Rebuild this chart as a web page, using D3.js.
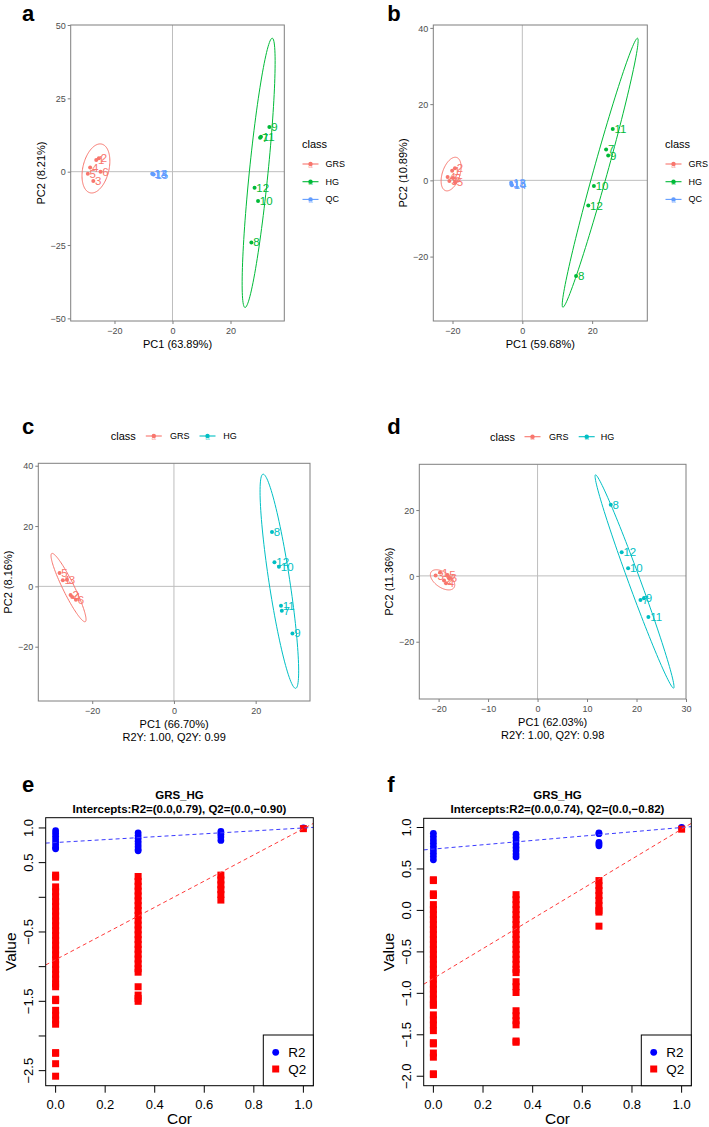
<!DOCTYPE html>
<html><head><meta charset="utf-8">
<script src="https://cdn.jsdelivr.net/npm/d3@7"></script>
<style>body{margin:0;background:#fff}svg{display:block}</style>
</head><body>
<svg id="fig" width="709" height="1127"></svg>
<script>
// ---------------- DATA ----------------
const sampleIds = ["1","2","3","4","5","6","7","8","9","10","11","12","13","14","15"];
const classes3 = ["GRS","GRS","GRS","GRS","GRS","GRS","HG","HG","HG","HG","HG","HG","QC","QC","QC"];
const classes2 = classes3.slice(0, 12);

// panel a (PCA, with QC)
const aPC1 = [-26.3, -25.4, -27.3, -28.4, -29.2, -24.8, 30.2, 27.2, 33.4, 29.5, 30.5, 28.3, -7.0, -6.7, -6.5];
const aPC2 = [4.0, 4.6, -3.2, 1.4, -0.7, 0.0, 11.6, -24.1, 15.2, -10.0, 11.9, -5.5, -0.7, -0.9, -1.0];
// ellipses: class, centre x, centre y, tip x, tip y, minor/major ratio
const aEllipses = [["GRS", -26.4, 1.1, -24.4, 9.4, 0.52], ["HG", 29.7, -0.4, 34.4, 45.5, 0.069]];
const aXTicks = [-20, 0, 20], aYTicks = [-50, -25, 0, 25, 50];

// panel b
const bPC1 = [-20.1, -19.3, -20.9, -21.4, -19.3, -19.9, 24.0, 15.4, 24.6, 20.5, 25.9, 18.9, -3.2, -3.0, -3.1];
const bPC2 = [2.5, 3.2, -0.2, 0.9, -0.5, 0.6, 8.1, -25.1, 6.5, -1.5, 13.5, -6.6, -0.6, -1.3, -1.0];
const bEllipses = [["GRS", -20.4, 1.65, -18.8, 6.0, 0.5], ["HG", 22.3, 2.0, 33.0, 37.3, 0.05]];
const bXTicks = [-20, 0, 20], bYTicks = [-20, 0, 20, 40];

// panel c (OPLS-DA GRS vs HG)
const cPC1 = [-27.2, -25.3, -26.2, -24.9, -28.0, -24.0, 26.4, 24.0, 29.0, 25.7, 26.2, 24.6];
const cPC2 = [2.0, -2.9, 2.2, -3.5, 4.4, -4.4, -8.1, 18.0, -15.6, 6.5, -6.4, 8.0];
const cEllipses = [["GRS", -25.8, -0.4, -29.9, 10.9, 0.15], ["HG", 25.8, 1.7, 21.8, 37.2, 0.096]];
const cXTicks = [-20, 0, 20], cYTicks = [-20, 0, 20, 40];

// panel d
const dPC1 = [-19.7, -18.9, -20.6, -18.5, -18.2, -17.9, 20.8, 14.8, 21.5, 18.3, 22.4, 17.0];
const dPC2 = [1.0, -1.4, 0.1, -2.2, 0.3, -0.7, -7.3, 21.6, -6.8, 2.3, -12.5, 7.2];
const dEllipses = [["GRS", -19.2, -1.2, -21.5, 1.2, 0.55], ["HG", 19.6, -1.7, 11.7, 30.7, 0.052]];
const dXTicks = [-20, -10, 0, 10, 20, 30], dYTicks = [-20, 0, 20];

// panels e, f (permutation tests)
const permCor = [0, 0.333, 0.667, 1];
const eR2 = [[0.96,0.92,0.88,0.84,0.80,0.76,0.72,0.70],[0.93,0.89,0.85,0.81,0.77,0.73,0.69,0.67],[0.95,0.91,0.87,0.82],[1.0]];
const eQ2 = [[0.32,0.29,0.15,0.08,0.01,-0.06,-0.13,-0.20,-0.27,-0.34,-0.41,-0.48,-0.55,-0.62,-0.69,-0.76,-0.83,-0.90,-0.97,-1.04,-1.11,-1.18,-1.25,-1.29,-1.47,-1.49,-1.63,-1.70,-1.77,-1.83,-2.24,-2.25,-2.40,-2.58],
             [0.30,0.23,0.16,0.09,0.02,-0.05,-0.12,-0.19,-0.26,-0.33,-0.40,-0.47,-0.54,-0.61,-0.68,-0.75,-0.82,-0.89,-0.96,-1.03,-1.08,-1.29,-1.41,-1.46,-1.50],
             [0.32,0.25,0.18,0.11,0.04,-0.04],
             [0.99]];
const eIntercepts = [0.79, -0.90];
const eYTicks = [1.0, 0.5, 0, -0.5, -1.0, -1.5, -2.0, -2.5];
const eYTickLabels = ["1.0", "0.5", "", "\u22120.5", "", "\u22121.5", "", "\u22122.5"];

const fR2 = [[0.93,0.89,0.85,0.81,0.77,0.73,0.69,0.65,0.61],[0.92,0.88,0.84,0.80,0.76,0.72,0.68,0.645],[0.935,0.925,0.82,0.80,0.78],[1.0]];
const fQ2 = [[0.37,0.36,0.20,0.18,0.07,0.01,-0.05,-0.11,-0.17,-0.23,-0.29,-0.35,-0.41,-0.47,-0.53,-0.59,-0.65,-0.71,-0.77,-0.83,-0.89,-0.95,-1.01,-1.07,-1.13,-1.145,-1.26,-1.32,-1.38,-1.45,-1.595,-1.61,-1.72,-1.77,-1.97,-1.98],
             [0.19,0.13,0.07,0.01,-0.05,-0.11,-0.17,-0.23,-0.29,-0.35,-0.41,-0.47,-0.53,-0.59,-0.65,-0.71,-0.75,-0.86,-0.92,-0.99,-1.21,-1.27,-1.33,-1.38,-1.575,-1.59],
             [0.36,0.30,0.24,0.18,0.12,0.06,0.0,-0.02,-0.19],
             [0.98]];
const fIntercepts = [0.74, -0.82];
const fYTicks = [1.0, 0.5, 0, -0.5, -1.0, -1.5, -2.0];
const fYTickLabels = ["1.0", "0.5", "0.0", "\u22120.5", "\u22121.0", "\u22121.5", "\u22122.0"];
const corTicks = [0, 0.2, 0.4, 0.6, 0.8, 1.0];

// ---------------- DRAWING ----------------
const FONT = "'Liberation Sans', Arial, Helvetica, sans-serif";
const svg = d3.select("#fig").style("font-family", FONT);
const col3 = d3.scaleOrdinal().domain(["GRS","HG","QC"]).range(["#F8766D","#00BA38","#619CFF"]);
const col2 = d3.scaleOrdinal().domain(["GRS","HG"]).range(["#F8766D","#00BFC4"]);
const fmtMinus = d => (d < 0 ? "\u2212" + Math.abs(d) : String(d));
const fmt2 = v => (v < 0 ? "\u2212" : "") + Math.abs(v).toFixed(2);

function panelLetter(t, x, y) {
  svg.append("text").attr("x", x).attr("y", y).attr("text-anchor", "middle")
    .attr("font-size", 22).attr("font-weight", "bold").text(t);
}

function ellipsePath(x, y, e) {
  const [, cx, cy, tx, ty, ratio] = e;
  const C = [x(cx), y(cy)], T = [x(tx), y(ty)];
  const dx = T[0] - C[0], dy = T[1] - C[1];
  const a = Math.hypot(dx, dy), ux = dx / a, uy = dy / a, b = a * ratio;
  const pts = d3.range(0, 360, 3).map(deg => {
    const t = deg * Math.PI / 180;
    return [C[0] + a * Math.cos(t) * ux - b * Math.sin(t) * uy,
            C[1] + a * Math.cos(t) * uy + b * Math.sin(t) * ux];
  });
  return d3.line().curve(d3.curveLinearClosed)(pts);
}

function legendKey(g, cx, cy, color) {
  g.append("line").attr("x1", cx - 8).attr("x2", cx + 8).attr("y1", cy).attr("y2", cy)
    .attr("stroke", color).attr("stroke-width", 1.1);
  g.append("text").attr("x", cx).attr("y", cy + 3.5).attr("text-anchor", "middle")
    .attr("font-size", 8).attr("fill", color).attr("opacity", 0.6).text("a");
  g.append("circle").attr("cx", cx).attr("cy", cy).attr("r", 2.2).attr("fill", color);
}

function ggPanel(o) {
  const g = svg.append("g");
  const x = d3.scaleLinear().domain(o.xDomain).range([o.left, o.right]);
  const y = d3.scaleLinear().domain(o.yDomain).range([o.bottom, o.top]);
  const clipId = "clip" + o.id;
  g.append("clipPath").attr("id", clipId).append("rect")
    .attr("x", o.left).attr("y", o.top).attr("width", o.right - o.left).attr("height", o.bottom - o.top);
  const inner = g.append("g").attr("clip-path", `url(#${clipId})`);
  inner.append("line").attr("x1", x(0)).attr("x2", x(0)).attr("y1", o.top).attr("y2", o.bottom)
    .attr("stroke", "#BEBEBE").attr("stroke-width", 1);
  inner.append("line").attr("x1", o.left).attr("x2", o.right).attr("y1", y(0)).attr("y2", y(0))
    .attr("stroke", "#BEBEBE").attr("stroke-width", 1);
  o.ellipses.forEach(e => {
    inner.append("path").attr("d", ellipsePath(x, y, e)).attr("fill", "none")
      .attr("stroke", o.color(e[0])).attr("stroke-width", 1);
  });
  const n = o.px.length;
  const pts = d3.range(n).map(i => ({x: o.px[i], y: o.py[i], c: o.cls[i], id: sampleIds[i]}));
  inner.selectAll("circle.pt").data(pts).join("circle").attr("class", "pt")
    .attr("cx", d => x(d.x)).attr("cy", d => y(d.y)).attr("r", 2).attr("fill", d => o.color(d.c));
  inner.selectAll("text.lb").data(pts).join("text").attr("class", "lb")
    .attr("x", d => x(d.x) + 1.8).attr("y", d => y(d.y)).attr("dominant-baseline", "central")
    .attr("font-size", 11.5).attr("fill", d => o.color(d.c)).text(d => d.id);
  g.append("rect").attr("x", o.left).attr("y", o.top).attr("width", o.right - o.left)
    .attr("height", o.bottom - o.top).attr("fill", "none").attr("stroke", "#7F7F7F").attr("stroke-width", 1);
  // axes
  const ax = g.append("g").attr("transform", `translate(0,${o.bottom})`)
    .call(d3.axisBottom(x).tickValues(o.xTicks).tickSize(3).tickSizeOuter(0).tickFormat(fmtMinus));
  const ay = g.append("g").attr("transform", `translate(${o.left},0)`)
    .call(d3.axisLeft(y).tickValues(o.yTicks).tickSize(3).tickSizeOuter(0).tickFormat(fmtMinus));
  [ax, ay].forEach(a => {
    a.select(".domain").remove();
    a.selectAll("line").attr("stroke", "#7F7F7F");
    a.selectAll("text").attr("fill", "#4D4D4D").attr("font-size", 9).attr("font-family", FONT);
  });
  ax.selectAll("text").attr("dy", null).attr("y", 12.5);
  ay.selectAll("text").attr("x", -5).attr("dy", "0.35em");
  // titles
  g.append("text").attr("x", (o.left + o.right) / 2).attr("y", o.bottom + 27)
    .attr("text-anchor", "middle").attr("font-size", 11).text(o.xTitle);
  if (o.subTitle) g.append("text").attr("x", (o.left + o.right) / 2).attr("y", o.bottom + 40)
    .attr("text-anchor", "middle").attr("font-size", 11).text(o.subTitle);
  g.append("text").attr("transform", `translate(${o.left - 30},${(o.top + o.bottom) / 2}) rotate(-90)`)
    .attr("text-anchor", "middle").attr("dominant-baseline", "central").attr("font-size", 11).text(o.yTitle);
  // legend
  const lg = g.append("g");
  const L = o.legend;
  lg.append("text").attr("x", L.x).attr("y", L.y).attr("dominant-baseline", "central")
    .attr("font-size", 11).text("class");
  if (L.vertical) {
    L.classes.forEach((c, i) => {
      const yy = L.y + 20 + i * 17.7;
      legendKey(lg, L.x + 8.5, yy, o.color(c));
      lg.append("text").attr("x", L.x + 23.5).attr("y", yy).attr("dominant-baseline", "central")
        .attr("font-size", 9).text(c);
    });
  } else {
    L.keys.forEach(k => {
      legendKey(lg, k[1], L.y, o.color(k[0]));
      lg.append("text").attr("x", k[2]).attr("y", L.y).attr("dominant-baseline", "central")
        .attr("font-size", 9).text(k[0]);
    });
  }
}

function permPanel(o) {
  const g = svg.append("g");
  const x = d3.scaleLinear().domain(o.xDomain).range([o.left, o.right]);
  const y = d3.scaleLinear().domain(o.yDomain).range([o.bottom, o.top]);
  const clipId = "clip" + o.id;
  g.append("clipPath").attr("id", clipId).append("rect")
    .attr("x", o.left).attr("y", o.top).attr("width", o.right - o.left).attr("height", o.bottom - o.top);
  const inner = g.append("g").attr("clip-path", `url(#${clipId})`);
  const r2pts = [], q2pts = [];
  permCor.forEach((c, i) => {
    o.r2[i].forEach(v => r2pts.push([c, v]));
    o.q2[i].forEach(v => q2pts.push([c, v]));
  });
  inner.selectAll("circle.r2").data(r2pts).join("circle").attr("class", "r2")
    .attr("cx", d => x(d[0])).attr("cy", d => y(d[1])).attr("r", 3.4).attr("fill", "#0000FF");
  inner.selectAll("rect.q2").data(q2pts).join("rect").attr("class", "q2")
    .attr("x", d => x(d[0]) - 3.5).attr("y", d => y(d[1]) - 3.5).attr("width", 7).attr("height", 7)
    .attr("fill", "#FF0000");
  // regression lines through intercept and the original model value at cor = 1
  const r2Orig = o.r2[3][0], q2Orig = o.q2[3][0];
  const lines = [[o.intercepts[0], r2Orig - o.intercepts[0], "#3A3AFF"], [o.intercepts[1], q2Orig - o.intercepts[1], "#FF3A3A"]];
  lines.forEach(([b0, b1, c]) => {
    const x0 = o.xDomain[0], x1 = o.xDomain[1];
    inner.append("line").attr("x1", x(x0)).attr("y1", y(b0 + b1 * x0)).attr("x2", x(x1)).attr("y2", y(b0 + b1 * x1))
      .attr("stroke", c).attr("stroke-width", 1).attr("stroke-dasharray", "4,3");
  });
  g.append("rect").attr("x", o.left).attr("y", o.top).attr("width", o.right - o.left)
    .attr("height", o.bottom - o.top).attr("fill", "none").attr("stroke", "#000").attr("stroke-width", 1);
  // axes
  corTicks.forEach(t => {
    g.append("line").attr("x1", x(t)).attr("x2", x(t)).attr("y1", o.bottom).attr("y2", o.bottom + 7).attr("stroke", "#000");
    g.append("text").attr("x", x(t)).attr("y", o.bottom + 23.5).attr("text-anchor", "middle")
      .attr("font-size", 13).text(t.toFixed(1));
  });
  o.yTicks.forEach((t, i) => {
    g.append("line").attr("x1", o.left - 7).attr("x2", o.left).attr("y1", y(t)).attr("y2", y(t)).attr("stroke", "#000");
    if (o.yTickLabels[i]) g.append("text").attr("transform", `translate(${o.left - 17.5},${y(t)}) rotate(-90)`)
      .attr("text-anchor", "middle").attr("dominant-baseline", "central").attr("font-size", 13).text(o.yTickLabels[i]);
  });
  const cx = (o.left + o.right) / 2;
  g.append("text").attr("x", cx).attr("y", 799).attr("text-anchor", "middle").attr("font-size", 11.5)
    .attr("font-weight", "bold").text("GRS_HG");
  g.append("text").attr("x", cx).attr("y", 812.5).attr("text-anchor", "middle").attr("font-size", 11.5)
    .attr("font-weight", "bold")
    .text(`Intercepts:R2=(0.0,${fmt2(o.intercepts[0])}), Q2=(0.0,${fmt2(o.intercepts[1])})`);
  g.append("text").attr("x", cx).attr("y", 1123.5).attr("text-anchor", "middle").attr("font-size", 15.5).text("Cor");
  g.append("text").attr("transform", `translate(${o.left - 35.5},${(o.top + o.bottom) / 2}) rotate(-90)`)
    .attr("text-anchor", "middle").attr("dominant-baseline", "central").attr("font-size", 15.5).text("Value");
  // legend
  const lx = o.right - 50, ly = o.bottom - 50.7;
  g.append("rect").attr("x", lx).attr("y", ly).attr("width", 50).attr("height", 50.7)
    .attr("fill", "#fff").attr("stroke", "#000");
  g.append("circle").attr("cx", lx + 12.4).attr("cy", ly + 17.3).attr("r", 3.4).attr("fill", "#0000FF");
  g.append("rect").attr("x", lx + 12.4 - 3.5).attr("y", ly + 34 - 3.5).attr("width", 7).attr("height", 7).attr("fill", "#FF0000");
  g.append("text").attr("x", lx + 25).attr("y", ly + 17.3).attr("dominant-baseline", "central").attr("font-size", 13.5).text("R2");
  g.append("text").attr("x", lx + 25).attr("y", ly + 34).attr("dominant-baseline", "central").attr("font-size", 13.5).text("Q2");
}

panelLetter("a", 28, 21);
panelLetter("b", 394, 21);
panelLetter("c", 28, 434);
panelLetter("d", 394, 434);
panelLetter("e", 28, 792);
panelLetter("f", 391, 792);

ggPanel({id: "a", left: 70.7, top: 25, right: 284.3, bottom: 321, xDomain: [-35.1, 38.55], yDomain: [-50.9, 50.0],
  xTicks: aXTicks, yTicks: aYTicks, px: aPC1, py: aPC2, cls: classes3, color: col3, ellipses: aEllipses,
  xTitle: "PC1 (63.89%)", yTitle: "PC2 (8.21%)", legend: {vertical: true, x: 302, y: 144, classes: ["GRS","HG","QC"]}});
ggPanel({id: "b", left: 433.3, top: 25, right: 647.3, bottom: 321, xDomain: [-25.5, 35.8], yDomain: [-36.9, 40.76],
  xTicks: bXTicks, yTicks: bYTicks, px: bPC1, py: bPC2, cls: classes3, color: col3, ellipses: bEllipses,
  xTitle: "PC1 (59.68%)", yTitle: "PC2 (10.89%)", legend: {vertical: true, x: 665, y: 144, classes: ["GRS","HG","QC"]}});
ggPanel({id: "c", left: 38.3, top: 463.3, right: 310, bottom: 701, xDomain: [-33.2, 33.3], yDomain: [-38.0, 40.8],
  xTicks: cXTicks, yTicks: cYTicks, px: cPC1, py: cPC2, cls: classes2, color: col2, ellipses: cEllipses,
  xTitle: "PC1 (66.70%)", subTitle: "R2Y: 1.00, Q2Y: 0.99", yTitle: "PC2 (8.16%)",
  legend: {vertical: false, x: 110.7, y: 436, keys: [["GRS", 153.8, 170], ["HG", 207.5, 223.3]]}});
ggPanel({id: "d", left: 419.3, top: 464.3, right: 686, bottom: 699, xDomain: [-23.9, 30.0], yDomain: [-37.4, 33.9],
  xTicks: dXTicks, yTicks: dYTicks, px: dPC1, py: dPC2, cls: classes2, color: col2, ellipses: dEllipses,
  xTitle: "PC1 (62.03%)", subTitle: "R2Y: 1.00, Q2Y: 0.98", yTitle: "PC2 (11.36%)",
  legend: {vertical: false, x: 490, y: 436.7, keys: [["GRS", 532.5, 549], ["HG", 586.7, 600.7]]}});

permPanel({id: "e", left: 45.7, top: 817.7, right: 313.3, bottom: 1085.7, xDomain: [-0.04, 1.04], yDomain: [-2.717, 1.148],
  r2: eR2, q2: eQ2, intercepts: eIntercepts, yTicks: eYTicks, yTickLabels: eYTickLabels});
permPanel({id: "f", left: 423.7, top: 818.3, right: 691.3, bottom: 1085.7, xDomain: [-0.039, 1.039], yDomain: [-2.114, 1.111],
  r2: fR2, q2: fQ2, intercepts: fIntercepts, yTicks: fYTicks, yTickLabels: fYTickLabels});
</script>
</body></html>
